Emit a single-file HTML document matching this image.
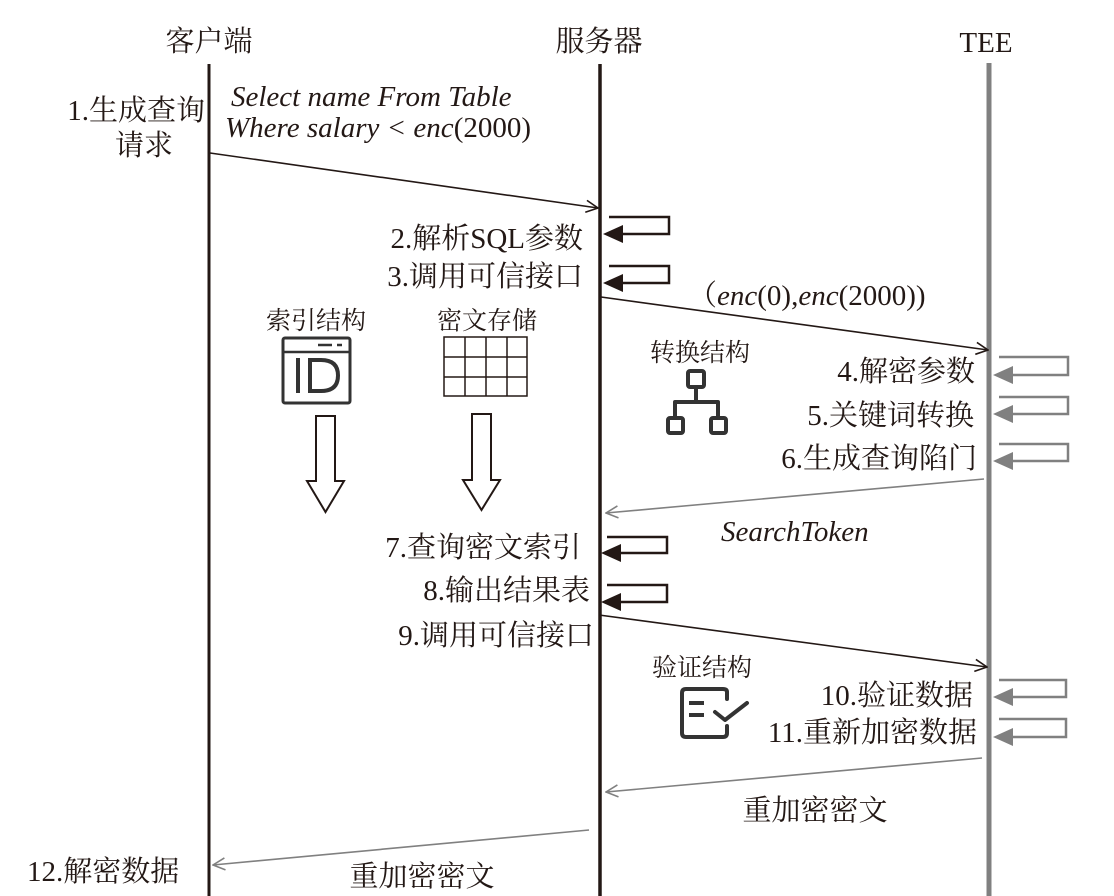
<!DOCTYPE html>
<html>
<head>
<meta charset="utf-8">
<style>
  html,body{margin:0;padding:0;background:#fff;}
  svg{display:block;}
  .t{font-family:"Liberation Serif","Noto Serif CJK SC",serif;font-size:29px;fill:#231815;}
  .s{font-family:"Liberation Serif","Noto Serif CJK SC",serif;font-size:25px;fill:#231815;}
  .i{font-style:italic;}
</style>
</head>
<body>
<svg width="1114" height="896" viewBox="0 0 1114 896" xmlns="http://www.w3.org/2000/svg">
  <defs>
    <marker id="ob" viewBox="0 0 14 14" refX="13" refY="7" markerWidth="14" markerHeight="14" markerUnits="userSpaceOnUse" orient="auto">
      <path d="M1,1 L13,7 L1,13" fill="none" stroke="#231815" stroke-width="1.6"/>
    </marker>
    <marker id="og" viewBox="0 0 14 14" refX="13" refY="7" markerWidth="14" markerHeight="14" markerUnits="userSpaceOnUse" orient="auto">
      <path d="M1,1 L13,7 L1,13" fill="none" stroke="#808080" stroke-width="1.6"/>
    </marker>
  </defs>

  <!-- headers -->
  <text class="t" x="209" y="51" text-anchor="middle">客户端</text>
  <text class="t" x="599" y="51" text-anchor="middle">服务器</text>
  <text class="t" x="986" y="52" text-anchor="middle">TEE</text>

  <!-- lifelines -->
  <line x1="209" y1="64" x2="209" y2="896" stroke="#231815" stroke-width="3"/>
  <line x1="600" y1="64" x2="600" y2="896" stroke="#231815" stroke-width="3.5"/>
  <line x1="989" y1="63" x2="989" y2="896" stroke="#808080" stroke-width="5"/>

  <!-- step 1 -->
  <text class="t" x="205" y="120" text-anchor="end">1.生成查询</text>
  <text class="t" x="144" y="155" text-anchor="middle">请求</text>
  <text class="t i" x="231" y="106">Select name From Table</text>
  <text class="t" x="225" y="137"><tspan class="i">Where salary &lt; enc</tspan>(2000)</text>
  <line x1="210" y1="153" x2="598" y2="208" stroke="#231815" stroke-width="1.6" marker-end="url(#ob)"/>

  <!-- server loops 2,3 -->
  <text class="t" x="583" y="248" text-anchor="end">2.解析SQL参数</text>
  <text class="t" x="583" y="286" text-anchor="end">3.调用可信接口</text>
  <path d="M609,217 H669 V234 H618" fill="none" stroke="#231815" stroke-width="2.5"/>
  <polygon points="603,234 623,225 623,243" fill="#231815"/>
  <path d="M609,266 H669 V283 H618" fill="none" stroke="#231815" stroke-width="2.5"/>
  <polygon points="603,283 623,274 623,292" fill="#231815"/>

  <!-- arrow to TEE -->
  <text class="t" x="688" y="305">（<tspan class="i">enc</tspan>(0),<tspan class="i">enc</tspan>(2000))</text>
  <line x1="601" y1="297" x2="988" y2="350" stroke="#231815" stroke-width="1.6" marker-end="url(#ob)"/>

  <!-- index structure icon -->
  <text class="s" x="316" y="329" text-anchor="middle">索引结构</text>
  <rect x="283" y="338" width="67" height="65" rx="2" fill="none" stroke="#333" stroke-width="3"/>
  <line x1="283" y1="352" x2="350" y2="352" stroke="#333" stroke-width="2.5"/>
  <line x1="318" y1="345" x2="332" y2="345" stroke="#333" stroke-width="2.5"/>
  <line x1="337" y1="345" x2="342" y2="345" stroke="#333" stroke-width="2.5"/>
  <rect x="296" y="358" width="4" height="35" fill="#333"/>
  <path d="M310,360 H321 Q338,360 338,375.5 Q338,391 321,391 H310 Z" fill="none" stroke="#333" stroke-width="4"/>

  <!-- cipher storage grid -->
  <text class="s" x="487" y="329" text-anchor="middle">密文存储</text>
  <g stroke="#231815" stroke-width="1.5" fill="none">
    <rect x="444" y="337" width="83" height="59"/>
    <line x1="465" y1="337" x2="465" y2="396"/>
    <line x1="486" y1="337" x2="486" y2="396"/>
    <line x1="507" y1="337" x2="507" y2="396"/>
    <line x1="444" y1="357" x2="527" y2="357"/>
    <line x1="444" y1="377" x2="527" y2="377"/>
  </g>

  <!-- hollow down arrows -->
  <polygon points="316,416 335,416 335,481 344,481 325.5,512 307,481 316,481" fill="#fff" stroke="#231815" stroke-width="2"/>
  <polygon points="472,414 491,414 491,480 500,480 481.5,510 463,480 472,480" fill="#fff" stroke="#231815" stroke-width="2"/>

  <!-- transform structure icon -->
  <text class="s" x="700" y="361" text-anchor="middle">转换结构</text>
  <g stroke="#333" stroke-width="4" fill="none" stroke-linejoin="round">
    <rect x="688" y="371" width="16" height="16" rx="2"/>
    <line x1="696" y1="387" x2="696" y2="402"/>
    <polyline points="675,418 675,402 718,402 718,418"/>
    <rect x="668" y="418" width="15" height="15" rx="2"/>
    <rect x="711" y="418" width="15" height="15" rx="2"/>
  </g>

  <!-- TEE loops 4,5,6 -->
  <text class="t" x="975" y="381" text-anchor="end">4.解密参数</text>
  <text class="t" x="974" y="425" text-anchor="end">5.关键词转换</text>
  <text class="t" x="977" y="468" text-anchor="end">6.生成查询陷门</text>
  <g stroke="#808080" stroke-width="2.5" fill="none">
    <path d="M999,357 H1068 V375 H1008"/>
    <path d="M999,397 H1068 V414 H1008"/>
    <path d="M999,444 H1068 V461 H1008"/>
  </g>
  <g fill="#808080">
    <polygon points="993,375 1013,366 1013,384"/>
    <polygon points="993,414 1013,405 1013,423"/>
    <polygon points="993,461 1013,452 1013,470"/>
  </g>

  <!-- SearchToken -->
  <line x1="984" y1="479" x2="606" y2="513" stroke="#808080" stroke-width="1.6" marker-end="url(#og)"/>
  <text class="t i" x="721" y="541">SearchToken</text>

  <!-- server loops 7,8 -->
  <text class="t" x="581" y="557" text-anchor="end">7.查询密文索引</text>
  <text class="t" x="590" y="600" text-anchor="end">8.输出结果表</text>
  <text class="t" x="594" y="645" text-anchor="end">9.调用可信接口</text>
  <path d="M607,537 H667 V553 H617" fill="none" stroke="#231815" stroke-width="2.5"/>
  <polygon points="601,553 621,544 621,562" fill="#231815"/>
  <path d="M607,585 H667 V602 H617" fill="none" stroke="#231815" stroke-width="2.5"/>
  <polygon points="601,602 621,593 621,611" fill="#231815"/>

  <!-- arrow 9 -->
  <line x1="599" y1="615" x2="987" y2="667" stroke="#231815" stroke-width="1.6" marker-end="url(#ob)"/>

  <!-- verify icon -->
  <text class="s" x="702" y="676" text-anchor="middle">验证结构</text>
  <g stroke="#333" stroke-width="4" fill="none" stroke-linejoin="round" stroke-linecap="round">
    <path d="M727,699 V692 Q727,689 723,689 H686 Q682,689 682,693 V733 Q682,737 686,737 H723 Q727,737 727,733 V726"/>
    <line x1="689" y1="703" x2="704" y2="703" stroke-linecap="butt"/>
    <line x1="689" y1="715" x2="704" y2="715" stroke-linecap="butt"/>
    <polyline points="715,712 725,720 747,703"/>
  </g>

  <!-- TEE loops 10,11 -->
  <text class="t" x="973" y="705" text-anchor="end">10.验证数据</text>
  <text class="t" x="977" y="742" text-anchor="end">11.重新加密数据</text>
  <g stroke="#808080" stroke-width="2.5" fill="none">
    <path d="M999,680 H1066 V697 H1008"/>
    <path d="M999,719 H1066 V737 H1008"/>
  </g>
  <g fill="#808080">
    <polygon points="993,697 1013,688 1013,706"/>
    <polygon points="993,737 1013,728 1013,746"/>
  </g>

  <!-- re-encrypted back -->
  <line x1="982" y1="758" x2="606" y2="792" stroke="#808080" stroke-width="1.6" marker-end="url(#og)"/>
  <text class="t" x="815" y="820" text-anchor="middle">重加密密文</text>
  <line x1="589" y1="830" x2="213" y2="865" stroke="#808080" stroke-width="1.6" marker-end="url(#og)"/>
  <text class="t" x="27" y="881">12.解密数据</text>
  <text class="t" x="422" y="886" text-anchor="middle">重加密密文</text>
</svg>
</body>
</html>
